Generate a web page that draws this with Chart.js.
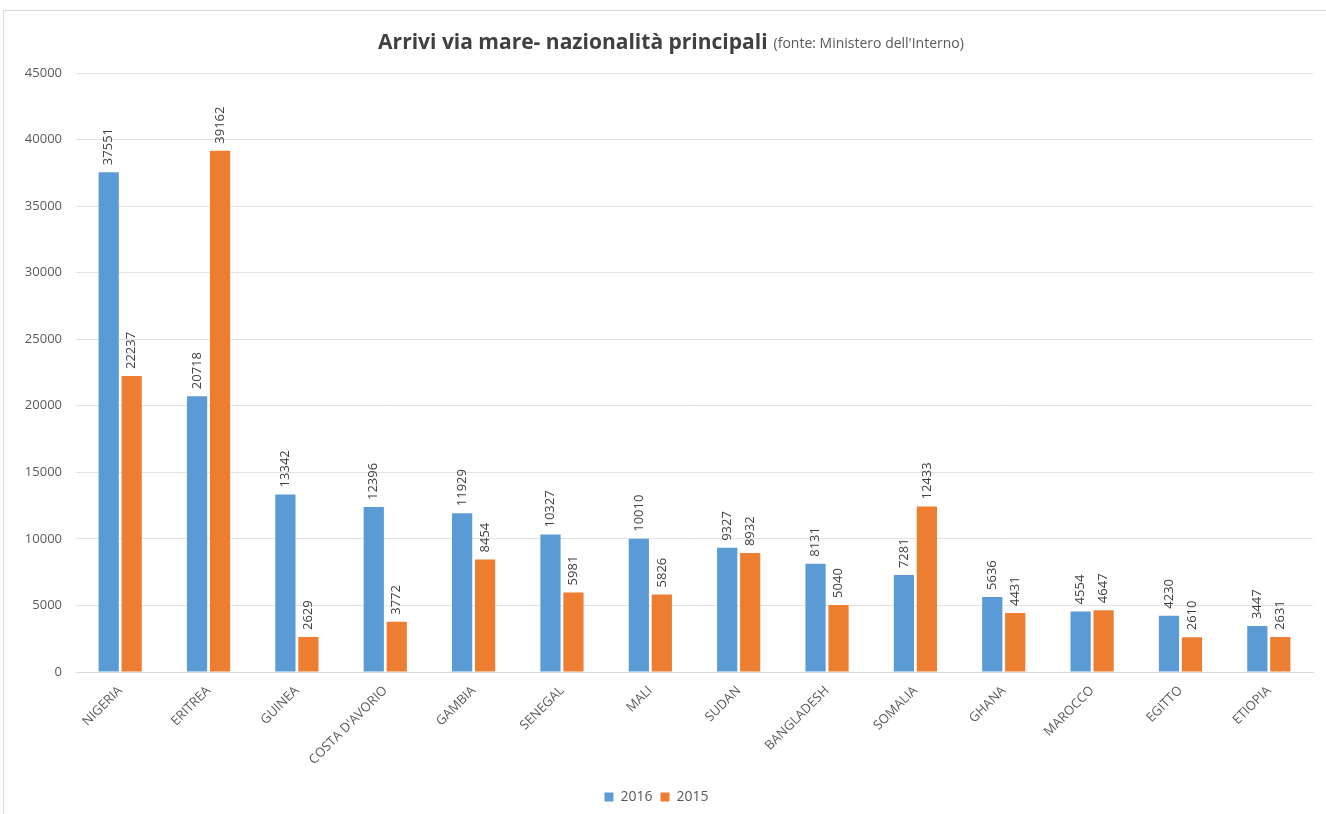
<!DOCTYPE html>
<html>
<head>
<meta charset="utf-8">
<script src="https://cdn.jsdelivr.net/npm/chart.js@4.4.0/dist/chart.umd.min.js"></script>
<style>
  html, body { margin: 0; padding: 0; background: #fff; }
  #frame { position: absolute; left: 3px; top: 10px; width: 1330px; height: 810px; border: 1px solid #d9d9d9; box-sizing: border-box; }
  #wrap { position: absolute; left: 0; top: 0; width: 1326px; height: 814px; }
</style>
</head>
<body>
<div id="frame"></div>
<div id="wrap"><canvas id="chart"></canvas></div>
<script>
const countries = ['NIGERIA', 'ERITREA', 'GUINEA', "COSTA D'AVORIO", 'GAMBIA', 'SENEGAL', 'MALI',
                   'SUDAN', 'BANGLADESH', 'SOMALIA', 'GHANA', 'MAROCCO', 'EGITTO', 'ETIOPIA'];
const arrivals2016 = [37551, 20718, 13342, 12396, 11929, 10327, 10010, 9327, 8131, 7281, 5636, 4554, 4230, 3447];
const arrivals2015 = [22237, 39162, 2629, 3772, 8454, 5981, 5826, 8932, 5040, 12433, 4431, 4647, 2610, 2631];
const yTicks = [0, 5000, 10000, 15000, 20000, 25000, 30000, 35000, 40000, 45000];

const FONT = "'Open Sans', 'Noto Sans', sans-serif";

// title with a smaller grey source note after it
const titlePlugin = {
    id: 'titleText',
    afterDraw(chart) {
        const ctx = chart.ctx;
        const main = 'Arrivi via mare- nazionalità principali';
        const note = "(fonte: Ministero dell'Interno)";
        ctx.save();
        ctx.textBaseline = 'alphabetic';
        ctx.font = "bold 21px " + FONT;
        const w1 = ctx.measureText(main).width;
        ctx.font = "14px " + FONT;
        const w2 = ctx.measureText(note).width;
        const x0 = 671 - (w1 + 6 + w2) / 2;
        ctx.fillStyle = '#404040';
        ctx.font = "bold 21px " + FONT;
        ctx.fillText(main, x0, 49);
        ctx.fillStyle = '#595959';
        ctx.font = "14px " + FONT;
        ctx.fillText(note, x0 + w1 + 6, 48);
        ctx.restore();
    }
};

// vertical value labels above each bar
const valueLabels = {
    id: 'valueLabels',
    afterDatasetsDraw(chart) {
        const ctx = chart.ctx;
        ctx.save();
        ctx.font = "13px " + FONT;
        ctx.fillStyle = '#404040';
        ctx.textAlign = 'left';
        ctx.textBaseline = 'middle';
        chart.data.datasets.forEach((ds, i) => {
            chart.getDatasetMeta(i).data.forEach((bar, j) => {
                ctx.save();
                ctx.translate(bar.x, bar.y - 7);
                ctx.rotate(-Math.PI / 2);
                ctx.fillText(String(ds.data[j]), 0, 0);
                ctx.restore();
            });
        });
        ctx.restore();
    }
};

new Chart(document.getElementById('chart'), {
    type: 'bar',
    data: {
        labels: countries,
        datasets: [
            {
                label: '2016',
                data: arrivals2016,
                backgroundColor: '#5b9bd5',
                barPercentage: 0.88,
                categoryPercentage: 0.52
            },
            {
                label: '2015',
                data: arrivals2015,
                backgroundColor: '#ed7d31',
                barPercentage: 0.88,
                categoryPercentage: 0.52
            }
        ]
    },
    options: {
        responsive: true,
        maintainAspectRatio: false,
        animation: false,
        layout: { padding: { top: 73, right: 13, left: 0, bottom: 0 } },
        scales: {
            x: {
                grid: { display: false },
                border: { color: '#d9d9d9' },
                ticks: {
                    color: '#595959',
                    font: { family: FONT, size: 13 },
                    minRotation: 45,
                    maxRotation: 45,
                    autoSkip: false
                },
                afterFit(scale) { scale.height = 110; }
            },
            y: {
                min: 0,
                max: 45000,
                afterBuildTicks(scale) { scale.ticks = yTicks.map(v => ({ value: v })); },
                grid: { color: '#e3e3e3', drawTicks: false },
                border: { display: false },
                ticks: {
                    color: '#595959',
                    padding: 14,
                    font: { family: FONT, size: 13 },
                    callback: v => String(v)
                },
                afterFit(scale) { scale.width = 76; }
            }
        },
        plugins: {
            legend: {
                position: 'bottom',
                labels: {
                    color: '#595959',
                    font: { family: FONT, size: 14 },
                    boxWidth: 9,
                    boxHeight: 9,
                    padding: 8
                }
            },
            tooltip: { enabled: false }
        }
    },
    plugins: [titlePlugin, valueLabels]
});
</script>
</body>
</html>
